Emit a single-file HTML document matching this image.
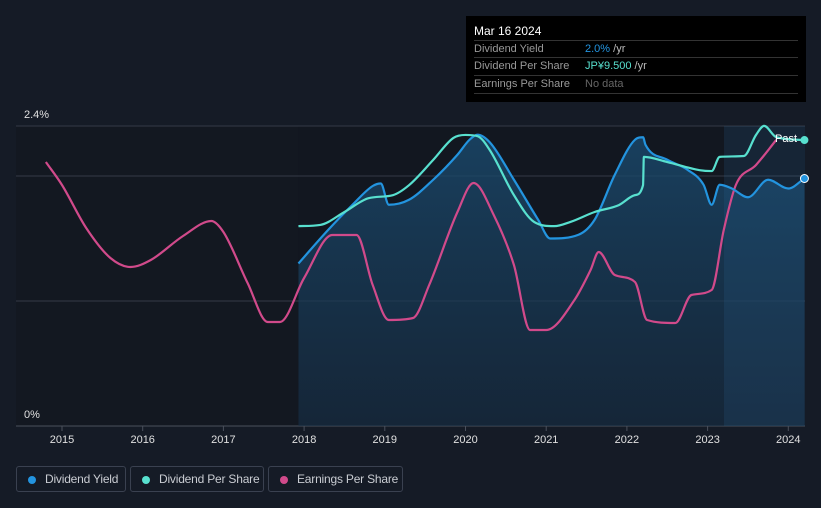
<!DOCTYPE html>
<html><head><meta charset="utf-8"><style>
body{margin:0;background:#151b26;font-family:"Liberation Sans",sans-serif;}
#wrap{position:relative;width:821px;height:508px;overflow:hidden;background:#151b26;}
svg{position:absolute;left:0;top:0}
.tip{position:absolute;left:466px;top:16px;width:340px;height:86px;background:#000;color:#fff;font-size:11px}
.tip .row{position:absolute;left:8px;width:324px;border-top:1px solid #333;height:17px;line-height:17px}
.leg{position:absolute;top:466px;height:26px;border:1px solid #3a4150;border-radius:3px;color:#c9ccd2;font-size:12px;line-height:25px;box-sizing:border-box;padding-left:28px;white-space:nowrap;letter-spacing:-0.2px}
.leg i{position:absolute;left:11px;top:9px;width:8px;height:8px;border-radius:50%}
</style></head><body>
<div id="wrap">
<svg id="chart" width="821" height="508"></svg>
<div class="tip">
 <div style="position:absolute;left:8px;top:8px;font-size:12px">Mar 16 2024</div>
 <div class="row" style="top:24px"><span style="color:#999">Dividend Yield</span><span style="position:absolute;left:111px"><span style="color:#2394df">2.0%</span> <span style="color:#bbb">/yr</span></span></div>
 <div class="row" style="top:41px"><span style="color:#999">Dividend Per Share</span><span style="position:absolute;left:111px"><span style="color:#58e0cf">JP¥9.500</span> <span style="color:#bbb">/yr</span></span></div>
 <div class="row" style="top:59px;border-bottom:1px solid #333"><span style="color:#999">Earnings Per Share</span><span style="position:absolute;left:111px;color:#666">No data</span></div>
</div>
<div class="leg" style="left:16px;width:110px"><i style="background:#2394df"></i>Dividend Yield</div>
<div class="leg" style="left:130px;width:134px"><i style="background:#58e0cf"></i>Dividend Per Share</div>
<div class="leg" style="left:268px;width:135px"><i style="background:#d14a8b"></i>Earnings Per Share</div>
</div>
<script>
const yTicks=[0,1,2,2.4];
const yTickLabels={0:"0%",2.4:"2.4%"};
const xYears=[2015,2016,2017,2018,2019,2020,2021,2022,2023,2024];
const yieldX=[2017.93,2018.3,2018.6,2018.85,2018.95,2019.05,2019.3,2019.6,2019.9,2020.05,2020.15,2020.3,2020.6,2020.9,2021.05,2021.4,2021.6,2021.85,2022.1,2022.2,2022.23,2022.5,2022.75,2022.95,2023.05,2023.15,2023.3,2023.5,2023.75,2024,2024.2];
const yieldV=[1.30,1.57,1.77,1.92,1.94,1.77,1.81,1.97,2.17,2.29,2.33,2.27,1.97,1.65,1.50,1.53,1.65,2.01,2.29,2.31,2.25,2.13,2.05,1.93,1.77,1.93,1.90,1.83,1.97,1.90,1.98];
const dpsX=[2017.93,2018.2,2018.5,2018.8,2019.1,2019.3,2019.6,2019.85,2020,2020.15,2020.3,2020.6,2020.85,2021.1,2021.3,2021.6,2021.9,2022.1,2022.2,2022.21,2022.5,2022.9,2023.05,2023.15,2023.45,2023.6,2023.7,2023.85,2024.2];
const dpsV=[6.64,6.68,7.11,7.57,7.67,8.0,8.84,9.57,9.67,9.63,9.17,7.67,6.78,6.64,6.78,7.11,7.34,7.67,8.0,8.94,8.77,8.5,8.47,8.94,8.97,9.67,9.97,9.6,9.5];
const epsX=[2014.8,2015.0,2015.3,2015.6,2015.85,2016.1,2016.5,2016.85,2017.0,2017.3,2017.55,2017.7,2018.0,2018.35,2018.65,2018.85,2019.05,2019.35,2019.55,2019.9,2020.1,2020.35,2020.6,2020.8,2021.0,2021.35,2021.55,2021.65,2021.85,2022.1,2022.25,2022.6,2022.8,2023.05,2023.2,2023.35,2023.6,2023.85];
const epsV=[26.4,24.1,19.8,16.8,15.9,16.6,19.0,20.5,19.4,14.3,10.4,10.4,14.8,19.1,19.1,14.1,10.6,10.8,14.1,21.4,24.3,21.1,16.1,9.6,9.6,12.6,15.6,17.4,15.1,14.4,10.6,10.3,13.1,13.6,19.6,24.1,26.1,28.6];
const L=16,R=805,T=126,B=426;
const xs=y=>62+(y-2015)*80.7;
const ys=v=>B-(v/2.4)*(B-T);
const ysD=v=>B-v*30.1;
const ysE=v=>B-v*10;
const NS="http://www.w3.org/2000/svg";
const svg=document.getElementById('chart');
function mk(t,a){const e=document.createElementNS(NS,t);for(const k in a)e.setAttribute(k,a[k]);svg.appendChild(e);return e;}
function path(X,V,sy){const p=X.map((x,i)=>[xs(x),sy(V[i])]);const n=p.length;
const d=[],m=[];for(let i=0;i<n-1;i++)d.push((p[i+1][1]-p[i][1])/(p[i+1][0]-p[i][0]));
for(let i=0;i<n;i++){if(i==0)m.push(d[0]);else if(i==n-1)m.push(d[n-2]);else m.push(d[i-1]*d[i]<=0?0:(d[i-1]+d[i])/2);}
for(let i=0;i<n-1;i++){if(d[i]==0){m[i]=0;m[i+1]=0;continue;}const a=m[i]/d[i],b=m[i+1]/d[i],s=a*a+b*b;if(s>9){const t=3/Math.sqrt(s);m[i]=t*a*d[i];m[i+1]=t*b*d[i];}}
let s=`M${p[0][0]},${p[0][1]}`;
for(let i=0;i<n-1;i++){const h=(p[i+1][0]-p[i][0])/3;s+=`C${p[i][0]+h},${p[i][1]+m[i]*h} ${p[i+1][0]-h},${p[i+1][1]-m[i+1]*h} ${p[i+1][0]},${p[i+1][1]}`;}return s;}
const defs=document.createElementNS(NS,'defs');defs.innerHTML='<linearGradient id="g" x1="0" y1="0" x2="0" y2="1"><stop offset="0" stop-color="#1a4a6e" stop-opacity="0.8"/><stop offset="1" stop-color="#173048" stop-opacity="0.6"/></linearGradient>';svg.appendChild(defs);
let r=mk('rect',{x:L,y:T,width:xs(yieldX[0])-L,height:B-T,fill:'#131821'});

r=mk('rect',{x:xs(yieldX[0]),y:T,width:R-xs(yieldX[0]),height:B-T,fill:'#121720'});

yTicks.forEach(v=>{const l=mk('line',{x1:L,x2:R,y1:ys(v),y2:ys(v),stroke:v==0?'#4a505c':'#343a46','stroke-width':1});

if(yTickLabels[v]){const t=mk('text',{x:24,y:ys(v)-8,fill:'#e0e0e0','font-size':11});t.textContent=yTickLabels[v];
}});
const yp=path(yieldX,yieldV,ys);
let a=mk('path',{d:yp+`L${xs(yieldX[yieldX.length-1])},${B}L${xs(yieldX[0])},${B}Z`,fill:'url(#g)'});

r=mk('rect',{x:724,y:T,width:R-724,height:B-T,fill:'#2a6a9a','fill-opacity':0.18});

xYears.forEach(y=>{const l=mk('line',{x1:xs(y),x2:xs(y),y1:B,y2:B+5,stroke:'#4a505c'});

const t=mk('text',{x:xs(y),y:B+17,fill:'#e0e0e0','font-size':11,'text-anchor':'middle'});t.textContent=y;
});
let p=mk('path',{d:path(epsX,epsV,ysE),fill:'none',stroke:'#d14a8b','stroke-width':2.2});

p=mk('path',{d:yp,fill:'none',stroke:'#2394df','stroke-width':2.2});

p=mk('path',{d:path(dpsX,dpsV,ysD),fill:'none',stroke:'#58e0cf','stroke-width':2.2});

let t=mk('text',{x:775,y:142,fill:'#fff','font-size':11});t.textContent='Past';

let c=mk('circle',{cx:xs(dpsX[dpsX.length-1]),cy:ysD(dpsV[dpsV.length-1]),r:4,fill:'#58e0cf'});

c=mk('circle',{cx:xs(yieldX[yieldX.length-1]),cy:ys(yieldV[yieldV.length-1]),r:4,fill:'#2394df',stroke:'#fff','stroke-width':1});

</script>
</body></html>
